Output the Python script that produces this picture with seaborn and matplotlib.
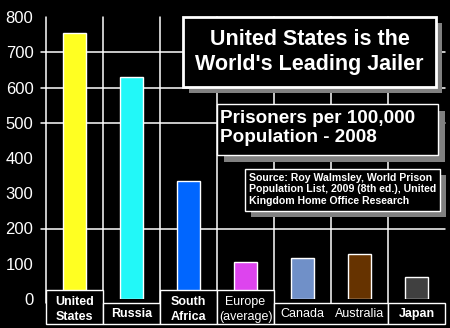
import matplotlib
matplotlib.use("Agg")
import matplotlib.pyplot as plt
import matplotlib.transforms as mtransforms
from matplotlib.patches import Rectangle
import pandas as pd
import seaborn as sns

# Incarceration rates, prisoners per 100,000 population (2008)
countries = ["United States", "Russia", "South Africa", "Europe (average)",
             "Canada", "Australia", "Japan"]
rates = [756, 629, 334, 106, 116, 129, 63]
tick_labels = ["United\nStates", "Russia", "South\nAfrica", "Europe\n(average)",
               "Canada", "Australia", "Japan"]
label_bold = [True, True, True, False, False, False, True]
bar_colors = ["#FFFF22", "#22F8F8", "#0066FF", "#DD44EE", "#7090C8", "#663300", "#404040"]
y_ticks = [0, 100, 200, 300, 400, 500, 600, 700, 800]
grid_levels = [200, 500, 600, 700]
# label boxes: (first category, last category)
label_boxes = [(0, 0), (1, 1), (2, 2), (3, 3), (4, 5), (6, 6)]

title = "United States is the\nWorld's Leading Jailer"
subtitle = "Prisoners per 100,000\nPopulation - 2008"
source = ("Source: Roy Walmsley, World Prison\n"
          "Population List, 2009 (8th ed.), United\n"
          "Kingdom Home Office Research")

df = pd.DataFrame({"country": countries, "rate": rates})

sns.set_theme(style="white")
plt.rcParams["font.family"] = ["Liberation Sans", "DejaVu Sans"]

W, H = 450, 328
fig = plt.figure(figsize=(W / 100, H / 100), dpi=100, facecolor="black")


def px(x, y):
    return x / W, 1 - y / H


ax = fig.add_axes([46 / W, 1 - 299 / H, (445 - 46) / W, (299 - 17) / H])
ax.set_facecolor("black")

sns.barplot(data=df, x="country", y="rate", hue="country", palette=bar_colors,
            saturation=1, width=0.42, edgecolor="white", linewidth=1.0,
            legend=False, ax=ax, zorder=3)

ax.set_xlim(-0.5, len(countries) - 0.5)
ax.set_ylim(0, 800)
for s in ax.spines.values():
    s.set_visible(False)

# grid: category separators and selected horizontal levels
for i in range(len(countries)):
    ax.axvline(i - 0.5, ymin=-0.015, ymax=1, color="white", lw=1.1,
               zorder=1, clip_on=False)
for g in grid_levels:
    ax.axhline(g, xmin=-5 / 399, xmax=1, color="white", lw=1.1,
               zorder=1, clip_on=False)

ax.set_yticks(y_ticks)
ax.set_yticklabels([str(v) for v in y_ticks], color="white", fontsize=12)
ax.tick_params(axis="y", length=0, pad=9)
ax.set_xticks([])
ax.set_xlabel("")
ax.set_ylabel("")

# category label boxes along the bottom
btr = mtransforms.blended_transform_factory(ax.transData, fig.transFigure)
tall = ["\n" in t for t in tick_labels]
for a, b in label_boxes:
    is_tall = any(tall[a:b + 1])
    top = 290 if is_tall else 303
    y0 = 1 - 324 / H
    h = (324 - top) / H
    fig.patches.append(Rectangle((a - 0.5, y0), b - a + 1, h, transform=btr,
                                 facecolor="black", edgecolor="white",
                                 lw=1.0, zorder=5, figure=fig))
for i, lab in enumerate(tick_labels):
    yc = 309.5 if tall[i] else 314
    fig.text(i, 1 - yc / H, lab, transform=btr, ha="center", va="center",
             color="white", fontsize=9, linespacing=1.25,
             fontweight="bold" if label_bold[i] else "normal", zorder=6)


def boxed_text(x0, y0, x1, y1, shadow, lw, text, tx, ty, ha, size, spacing):
    fx0, fy1 = px(x0, y1)
    fw, fh = (x1 - x0) / W, (y1 - y0) / H
    fig.patches.append(Rectangle((fx0 + shadow / W, fy1 - shadow / H), fw, fh,
                                 transform=fig.transFigure, facecolor="#808080",
                                 edgecolor="none", zorder=7, figure=fig))
    fig.patches.append(Rectangle((fx0, fy1), fw, fh, transform=fig.transFigure,
                                 facecolor="black", edgecolor="white", lw=lw,
                                 zorder=8, figure=fig))
    fig.text(*px(tx, ty), text, ha=ha, va="center", color="white",
             fontsize=size, fontweight="bold", linespacing=spacing, zorder=9)


boxed_text(183, 17, 436, 87, 6, 2.0, title, 309.5, 52, "center", 15.5, 1.25)
boxed_text(217, 104, 438, 155, 7, 1.0, subtitle, 220, 128, "left", 13.6, 1.2)
boxed_text(245, 169, 440, 211, 6, 1.0, source, 249, 189.5, "left", 7.6, 1.2)

fig.savefig("out.png", dpi=100, facecolor="black")
